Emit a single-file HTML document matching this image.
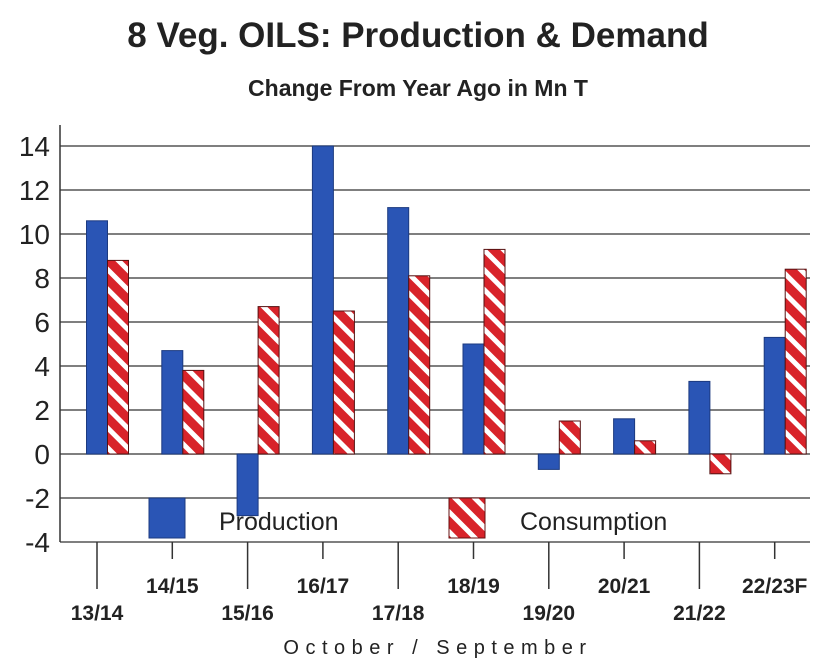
<!DOCTYPE html>
<html><head><meta charset="utf-8"><style>
body{margin:0;background:#fff;}
svg{display:block;font-family:"Liberation Sans",Arial,sans-serif;}
</style></head><body>
<svg id="chart" width="832" height="668" viewBox="0 0 832 668">
<defs>
<pattern id="stripes" patternUnits="userSpaceOnUse" width="14" height="14" patternTransform="rotate(45)">
<rect width="14" height="14" fill="#d8232a"/>
<rect width="14" height="5" fill="#fff"/>
</pattern>
</defs>
<text x="418" y="47" text-anchor="middle" font-size="35" font-weight="bold" fill="#222">8 Veg. OILS: Production &amp; Demand</text>
<text x="418" y="96" text-anchor="middle" font-size="23" font-weight="bold" fill="#222">Change From Year Ago in Mn T</text>
<g id="grid"></g>
<g id="bars"></g>
<g id="xaxis"></g>
<g>
<rect x="149" y="498" width="36" height="40" fill="#2a55b5" stroke="#1c3a80"/>
<text x="219" y="530" font-size="25" fill="#222">Production</text>
<rect x="449" y="498" width="36" height="40" fill="url(#stripes)" stroke="#611"/>
<text x="520" y="530" font-size="25" fill="#222">Consumption</text>
</g>
<text x="438" y="654" text-anchor="middle" font-size="20" letter-spacing="6.5" fill="#222">October / September</text>
</svg>
<script>
const categories=["13/14","14/15","15/16","16/17","17/18","18/19","19/20","20/21","21/22","22/23F"];
const production=[10.6,4.7,-2.8,14.0,11.2,5.0,-0.7,1.6,3.3,5.3];
const consumption=[8.8,3.8,6.7,6.5,8.1,9.3,1.5,0.6,-0.9,8.4];
const yTicks=[14,12,10,8,6,4,2,0,-2,-4];
const NS="http://www.w3.org/2000/svg";
const X0=60,X1=810,Y0=454,UNIT=22,STEP=75.3,FIRST=97,BW=21;
function y(v){return Y0-v*UNIT;}
function x(i){return FIRST+i*STEP;}
function mk(tag,attrs,parent){const e=document.createElementNS(NS,tag);for(const k in attrs)e.setAttribute(k,attrs[k]);parent.appendChild(e);return e;}
const grid=document.getElementById('grid'),bars=document.getElementById('bars'),xa=document.getElementById('xaxis');
yTicks.forEach(t=>{
  const l=mk('line',{x1:X0,x2:X1,y1:y(t),y2:y(t),stroke:'#555','stroke-width':1.5},grid);
  
  
  const tx=mk('text',{x:50,y:y(t)+10,'text-anchor':'end','font-size':28,fill:'#222'},grid);
  tx.textContent=t;
  
  
});
const ax=mk('line',{x1:X0,x2:X0,y1:125,y2:y(-4),stroke:'#333','stroke-width':1.5},grid);


categories.forEach((c,i)=>{
  const cx=x(i);
  const p=production[i];
  const r=mk('rect',{x:cx-BW/2,y:Math.min(y(p),Y0),width:BW,height:Math.abs(y(p)-Y0),fill:'#2a55b5',stroke:'#1c3a80','stroke-width':1},bars);
  
  
  const q=consumption[i];
  const r2=mk('rect',{x:cx+BW/2,y:Math.min(y(q),Y0),width:BW,height:Math.abs(y(q)-Y0),fill:'url(#stripes)',stroke:'#511','stroke-width':1},bars);
  
  
  const odd=i%2===1;
  const tk=mk('line',{x1:cx,x2:cx,y1:y(-4),y2:odd?y(-4)+17:y(-4)+47,stroke:'#333','stroke-width':1.5},xa);
  
  
  const lb=mk('text',{x:cx,y:odd?593:620,'text-anchor':'middle','font-size':21,'font-weight':'bold',fill:'#222'},xa);
  lb.textContent=c;
  
  
});
</script>
</body></html>
